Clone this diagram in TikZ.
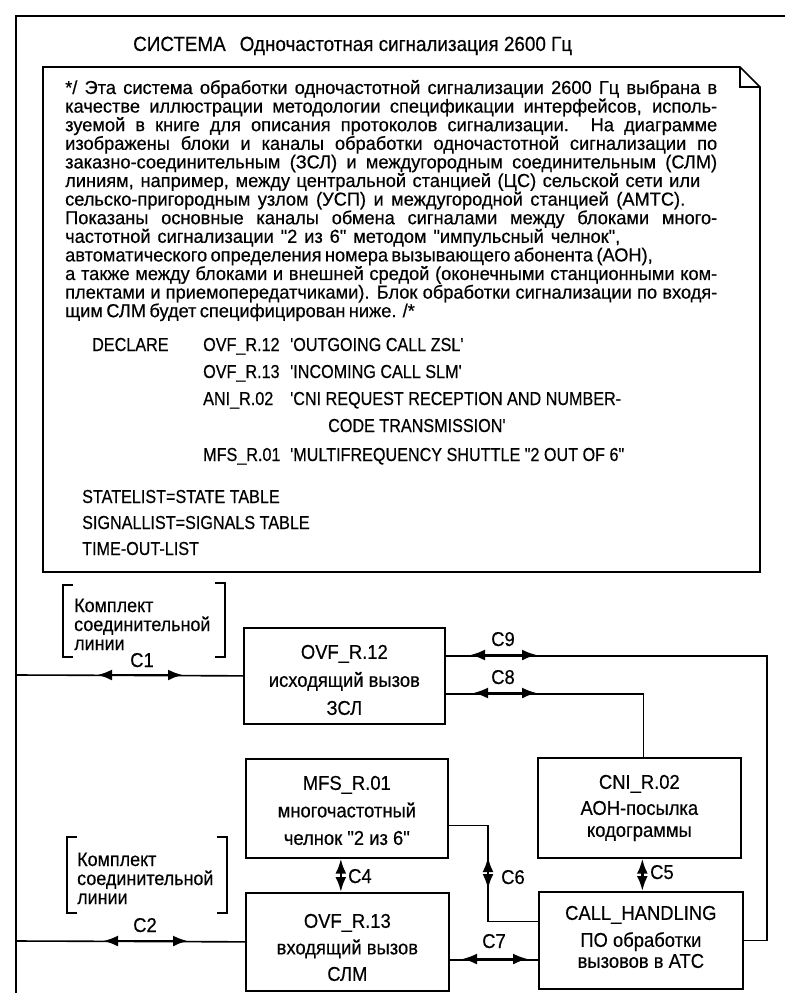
\documentclass[tikz,border=0pt]{standalone}
\usepackage{fontspec}
\newfontfamily\df{Liberation Sans}[FakeStretch=0.92,FakeBold=0.4]
\newfontfamily\dfp{Liberation Sans}[FakeStretch=0.97,FakeBold=0.4]
\newfontfamily\dfc{Liberation Sans}[FakeStretch=0.86,FakeBold=0.4]
\usetikzlibrary{arrows.meta,calc}
\newcommand\jline[2]{\hbox{\makebox[#1][s]{#2}}}
\newcommand\cenline[1]{\hbox to 0pt{\hss#1\hss}}
\newcommand\lftline[1]{\hbox{#1}}
\begin{document}
\begin{tikzpicture}[x=1pt,y=-1pt,
  frm/.style={line width=1.7pt},
  ln/.style={line width=1.6pt},
  dbl/.style={line width=2.5pt,{Latex[length=15pt,width=11pt]}-{Latex[length=15pt,width=11pt]}},
  blk/.style={draw,line width=1.7pt,inner sep=0pt,anchor=north west,
    font=\df\fontsize{20}{27.5}\selectfont},
  txt/.style={inner sep=0pt,anchor=base west,font=\dfp\fontsize{18.8}{18.5}\selectfont},
  dtxt/.style={inner sep=0pt,anchor=base west,font=\dfc\fontsize{18.8}{18.5}\selectfont},
  ttl/.style={inner sep=0pt,anchor=base west,font=\df\fontsize{20.5}{20}\selectfont},
  btxt/.style={inner sep=0pt,anchor=base west,font=\df\fontsize{19.5}{19}\selectfont},
  lbl/.style={inner sep=0pt,anchor=base,font=\df\fontsize{20}{20}\selectfont},
  lblw/.style={inner sep=0pt,anchor=base west,font=\df\fontsize{20}{20}\selectfont},
  brk/.style={line width=1.6pt}
]
\fill[white] (0,0) rectangle (785,995);
\useasboundingbox (0,0) rectangle (785,995);

% outer frame
\draw[frm] (16,993) -- (16,16) -- (785,16);
\node[ttl] (title) at (133,51) {СИСТЕМА\hspace{14pt}Одночастотная сигнализация 2600 Гц};

% text symbol (note)
\draw[frm] (43,67) -- (740,67) -- (760,87) -- (760,572) -- (43,572) -- cycle;
\draw[frm] (740,67) -- (740,87) -- (760,87);

\node[txt] (para) at (65,94) {\vtop{\baselineskip=18.6pt \lineskiplimit=-20pt
 \jline{652pt}{*/ Эта система обработки одночастотной сигнализации 2600 Гц выбрана в}
 \jline{652pt}{качестве иллюстрации методологии спецификации интерфейсов, исполь-}
 \jline{652pt}{зуемой в книге для описания протоколов сигнализации. На диаграмме}
 \jline{652pt}{изображены блоки и каналы обработки одночастотной сигнализации по}
 \jline{652pt}{заказно-соединительным (ЗСЛ) и междугородным соединительным (СЛМ)}
 \jline{635pt}{линиям, например, между центральной станцией (ЦС) сельской сети или}
 \jline{620pt}{сельско-пригородным узлом (УСП) и междугородной станцией (АМТС).}
 \jline{652pt}{Показаны основные каналы обмена сигналами между блоками много-}
 \jline{555pt}{частотной сигнализации "2 из 6" методом "импульсный челнок",}
 \jline{555pt}{автоматического определения номера вызывающего абонента (АОН),}
 \jline{652pt}{а также между блоками и внешней средой (оконечными станционными ком-}
 \jline{652pt}{плектами и приемопередатчиками). Блок обработки сигнализации по входя-}
 \jline{322pt}{щим СЛМ будет специфицирован ниже. /*}}};

\node[dtxt] (decl) at (92,351) {DECLARE};
\node[dtxt] (d1n) at (203,351) {OVF\_R.12};
\node[dtxt] (d1t) at (290,351) {'OUTGOING CALL ZSL'};
\node[dtxt] (d2n) at (203,378) {OVF\_R.13};
\node[dtxt] (d2t) at (290,378) {'INCOMING CALL SLM'};
\node[dtxt] (d3n) at (203,405) {ANI\_R.02};
\node[dtxt] (d3t) at (290,405) {'CNI REQUEST RECEPTION AND NUMBER-};
\node[dtxt] (d3u) at (328,432) {CODE TRANSMISSION'};
\node[dtxt] (d4n) at (203,461) {MFS\_R.01};
\node[dtxt] (d4t) at (290,461) {'MULTIFREQUENCY SHUTTLE "2 OUT OF 6"};
\node[dtxt] (sl) at (82,503) {STATELIST=STATE TABLE};
\node[dtxt] (sgl) at (82,529) {SIGNALLIST=SIGNALS TABLE};
\node[dtxt] (tol) at (82,555) {TIME-OUT-LIST};

% trunk line sets (brackets)
\node[btxt] (k1) at (74,612) {\vtop{\baselineskip=19pt \lineskiplimit=-20pt
  \lftline{Комплект}\lftline{соединительной}\lftline{линии}}};
\draw[brk] (73,585) -- (63,585) -- (63,657) -- (73,657);
\draw[brk] (215,583) -- (225,583) -- (225,657) -- (215,657);
\node[btxt] (k2) at (77,866) {\vtop{\baselineskip=19pt \lineskiplimit=-20pt
  \lftline{Комплект}\lftline{соединительной}\lftline{линии}}};
\draw[brk] (77,837) -- (67,837) -- (67,913) -- (77,913);
\draw[brk] (217,837) -- (227,837) -- (227,913) -- (217,913);

% blocks
\node[blk,minimum width=201pt,text height=31pt,text depth=65pt] (ovf12) at (243,627)
  {\vtop{\baselineskip=28pt \lineskiplimit=-30pt
   \cenline{OVF\_R.12}\cenline{исходящий вызов}\cenline{ЗСЛ}}};
\node[blk,minimum width=202pt,text height=31pt,text depth=68pt] (mfs) at (245,758)
  {\vtop{\baselineskip=27.5pt \lineskiplimit=-30pt
   \cenline{MFS\_R.01}\cenline{многочастотный}\cenline{челнок "2 из 6"}}};
\node[blk,minimum width=203pt,text height=31pt,text depth=69pt] (cni) at (537,757)
  {\vtop{\baselineskip=26pt \lineskiplimit=-30pt
   \cenline{CNI\_R.02}\cenline{АОН-посылка}\vskip-4pt\cenline{кодограммы}}};
\node[blk,minimum width=203pt,text height=35pt,text depth=63pt] (ovf13) at (245,892)
  {\vtop{\baselineskip=26.5pt \lineskiplimit=-30pt
   \cenline{OVF\_R.13}\cenline{входящий вызов}\cenline{СЛМ}}};
\node[blk,minimum width=204pt,text height=28pt,text depth=69pt] (call) at (538,891)
  {\vtop{\baselineskip=27pt \lineskiplimit=-30pt
   \cenline{CALL\_HANDLING}\cenline{ПО обработки}\vskip-6pt\cenline{вызовов в АТС}}};

% channels
\coordinate (c1s) at (16,675);
\draw[ln] (c1s) -- (ovf12.west);
\coordinate (c1a) at (97,675);
\coordinate (c1b) at (183,675);
\draw[dbl] (c1a) -- (c1b);
\node[lbl] (lc1) at (142,667) {C1};

\coordinate (c2s) at (16,941);
\draw[ln] (c2s) -- (ovf13.west);
\coordinate (c2a) at (103,941);
\coordinate (c2b) at (188,941);
\draw[dbl] (c2a) -- (c2b);
\node[lbl] (lc2) at (145,932) {C2};

\coordinate (c9k) at (767,800);
\draw[ln] ($(ovf12.east)+(0,-20)$) -| (c9k) |- (call.east);
\coordinate (c9a) at (470,655);
\coordinate (c9b) at (537,655);
\draw[dbl] (c9a) -- (c9b);
\node[lbl] (lc9) at (503,646) {C9};

\draw[ln] ($(ovf12.east)+(0,18)$) -| ([xshift=4pt]cni.north);
\coordinate (c8a) at (473,693);
\coordinate (c8b) at (537,693);
\draw[dbl] (c8a) -- (c8b);
\node[lbl] (lc8) at (503,684) {C8};

\draw[dbl] ([xshift=-6pt]mfs.south) -- ([xshift=-6pt]mfs.south |- ovf13.north);
\node[lblw] (lc4) at (348,883) {C4};

\draw[dbl] ([xshift=3pt]cni.south) -- ([xshift=3pt]cni.south |- call.north);
\node[lblw] (lc5) at (650,879) {C5};

\coordinate (c6k) at (488,870);
\draw[ln] ($(mfs.east)+(0,17)$) -| (c6k) |- ($(call.west)+(0,-19)$);
\coordinate (c6a) at (488,857);
\coordinate (c6b) at (488,889);
\draw[dbl] (c6a) -- (c6b);
\node[lblw] (lc6) at (501,884) {C6};

\draw[ln] ($(ovf13.east)+(0,18)$) -- ($(call.west)+(0,19.5)$);
\coordinate (c7a) at (462,959);
\coordinate (c7b) at (528,959);
\draw[dbl] (c7a) -- (c7b);
\node[lbl] (lc7) at (494,948) {C7};
\end{tikzpicture}
\end{document}
